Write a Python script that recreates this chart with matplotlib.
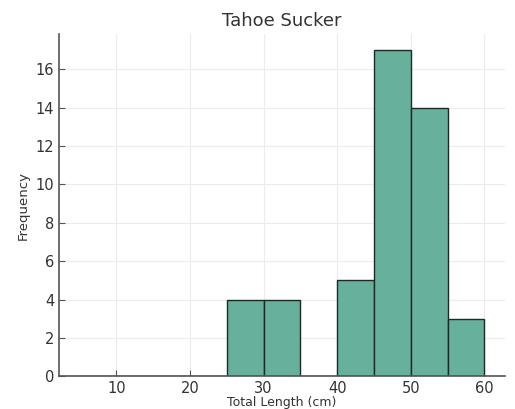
import numpy as np
from matplotlib import pyplot as plt

# histogram bins (cm) and counts per bin
bin_edges = [5, 10, 15, 20, 25, 30, 35, 40, 45, 50, 55, 60]
counts = [0, 0, 0, 0, 4, 4, 0, 5, 17, 14, 3]

title = "Tahoe Sucker"
x_label = "Total Length (cm)"
y_label = "Frequency"

text_color = "#333333"
plt.rcParams["font.family"] = "DejaVu Sans"
plt.rcParams["text.color"] = text_color

fig = plt.figure(figsize=(5.15, 4.09), dpi=100)
ax = fig.add_axes([0.115, 0.08, 0.865, 0.837])

ax.hist(bin_edges[:-1], bins=bin_edges, weights=counts, color="#66b09c",
        edgecolor="#1a2a25", linewidth=1.0)

ax.grid(True, color="#ececec", linewidth=0.8)
ax.set_axisbelow(True)
for side in ("top", "right"):
    ax.spines[side].set_visible(False)
for side in ("left", "bottom"):
    ax.spines[side].set_color("#555555")
    ax.spines[side].set_linewidth(1.2)

ax.set_xticks([10, 20, 30, 40, 50, 60])
ax.set_yticks(np.arange(0, 17, 2))
ax.tick_params(direction="in", length=4, colors="#555555", labelcolor=text_color, labelsize=10.5)

ax.set_title(title, fontsize=13, color=text_color, pad=6)
ax.set_xlabel(x_label, fontsize=9, color=text_color, labelpad=0)
ax.set_ylabel(y_label, fontsize=9.5, color=text_color)

plt.savefig("out.png", dpi=100)
